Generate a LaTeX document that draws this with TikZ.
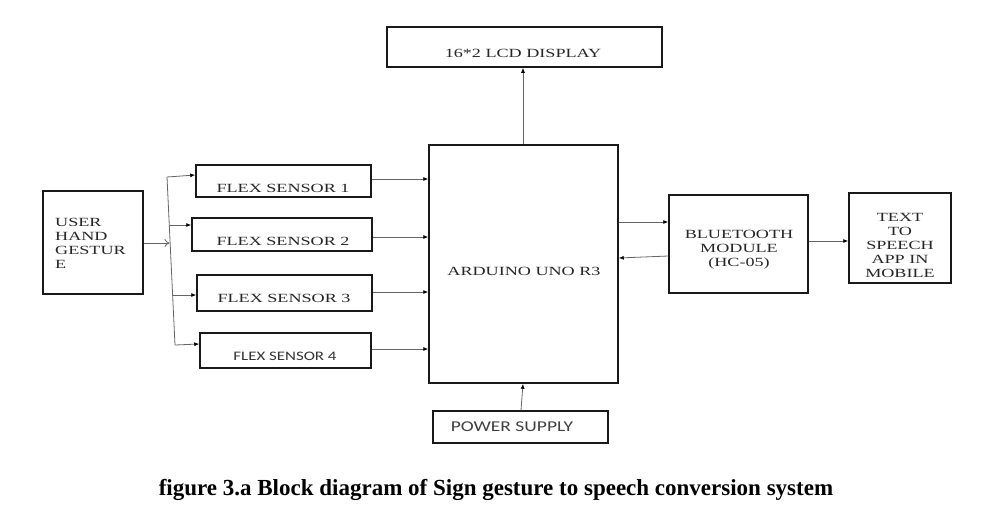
\documentclass[tikz,border=0pt]{standalone}
\usepackage{fontspec}
\setmainfont{Liberation Serif}
\newfontfamily\boxfont[FakeStretch=1.45]{Liberation Serif}
\newfontfamily\sansbox[FakeStretch=1.3]{Carlito}
\usetikzlibrary{arrows.meta}
\begin{document}
\begin{tikzpicture}[x=1pt,y=-1pt,
  blk/.style={draw=black!90,line width=1.5pt,inner sep=0pt},
  txt/.style={inner sep=0pt,text=black!85,font=\boxfont\fontsize{12.5}{14}\selectfont,align=center},
  stxt/.style={inner sep=0pt,text=black!80,font=\sansbox\fontsize{13}{14}\selectfont},
  conn/.style={draw=black!60,line width=0.8pt,-{Latex[length=5pt,width=4pt,color=black]}},
  bus/.style={draw=black!60,line width=0.8pt}]
\useasboundingbox (0,0) rectangle (993,507);
\fill[white] (0,0) rectangle (993,507);

% boxes
\node[blk,minimum width=275pt,minimum height=40pt] (lcd) at (524.5,47) {};
\node[blk,minimum width=189pt,minimum height=238pt] (ard) at (523.5,264) {};
\node[blk,minimum width=175pt,minimum height=32pt] (pow) at (520.5,427) {};
\node[blk,minimum width=100pt,minimum height=103pt] (user) at (93,242.5) {};
\node[blk,minimum width=175pt,minimum height=32pt] (f1) at (283.5,181) {};
\node[blk,minimum width=180pt,minimum height=33pt] (f2) at (282,234.5) {};
\node[blk,minimum width=175pt,minimum height=36pt] (f3) at (284.5,293) {};
\node[blk,minimum width=171pt,minimum height=35pt] (f4) at (285.5,350.5) {};
\node[blk,minimum width=139pt,minimum height=98pt] (bt) at (738.5,244) {};
\node[blk,minimum width=102pt,minimum height=90pt] (tts) at (900,238) {};

% texts
\node[txt] (lcdt) at (523,53) {16*2 LCD DISPLAY};
\node[txt] (ardt) at (524,271) {ARDUINO UNO R3};
\node[stxt,font=\sansbox\fontsize{15}{16}\selectfont,text=black!75] (powt) at (512,427) {POWER SUPPLY};
\node[txt,align=left,anchor=north west] (usert) at (55,218) {USER\\HAND\\GESTUR\\E};
\node[txt] (f1t) at (283,188) {FLEX SENSOR 1};
\node[txt] (f2t) at (283,241) {FLEX SENSOR 2};
\node[txt] (f3t) at (284,298) {FLEX SENSOR 3};
\node[stxt] (f4t) at (285,356) {FLEX SENSOR 4};
\node[txt] (btt) at (739,250) {BLUETOOTH\\MODULE\\(HC-05)};
\node[txt] (ttst) at (900,245.5) {TEXT\\TO\\SPEECH\\APP IN\\MOBILE};

% bus
\coordinate (b1) at (167,177);
\coordinate (b2) at (169.3,225);
\coordinate (b3) at (172.6,295);
\coordinate (b4) at (175,345);
\coordinate (bu) at (169.5,243);
\draw[bus] (b1) -- (b4);
\draw[draw=black!60,line width=0.8pt,-{To[length=5pt,width=8pt]}] (user.east |- bu) -- (bu);
\draw[conn] (b1) -- (f1.west |- 0,175);
\draw[conn] (b2) -- (f2.west |- b2);
\draw[conn] (b3) -- (f3.west |- b3);
\draw[conn] (b4) -- (f4.west |- 0,344);

% flex to arduino
\draw[conn] (f1.east |- 0,179) -- (ard.west |- 0,179);
\draw[conn] (f2.east |- 0,237) -- (ard.west |- 0,237);
\draw[conn] (f3.east |- 0,292) -- (ard.west |- 0,292);
\draw[conn] (f4.east |- 0,349) -- (ard.west |- 0,349);

% arduino, lcd, power
\draw[conn] (ard.north -| 523,0) -- (lcd.south -| 523,0);
\draw[conn] (pow.north -| 521,0) -- (ard.south -| 523,0);

% bluetooth
\draw[conn] (ard.east |- 0,222) -- (bt.west |- 0,222);
\draw[conn] (bt.west |- 0,256) -- (ard.east |- 0,258);
\draw[conn] (bt.east |- 0,241) -- (tts.west |- 0,241);

% caption
\node[inner sep=0pt,anchor=base,font=\fontsize{23}{27}\selectfont\bfseries] (cap) at (496,495) {figure 3.a Block diagram of Sign gesture to speech conversion system};
\end{tikzpicture}
\end{document}
